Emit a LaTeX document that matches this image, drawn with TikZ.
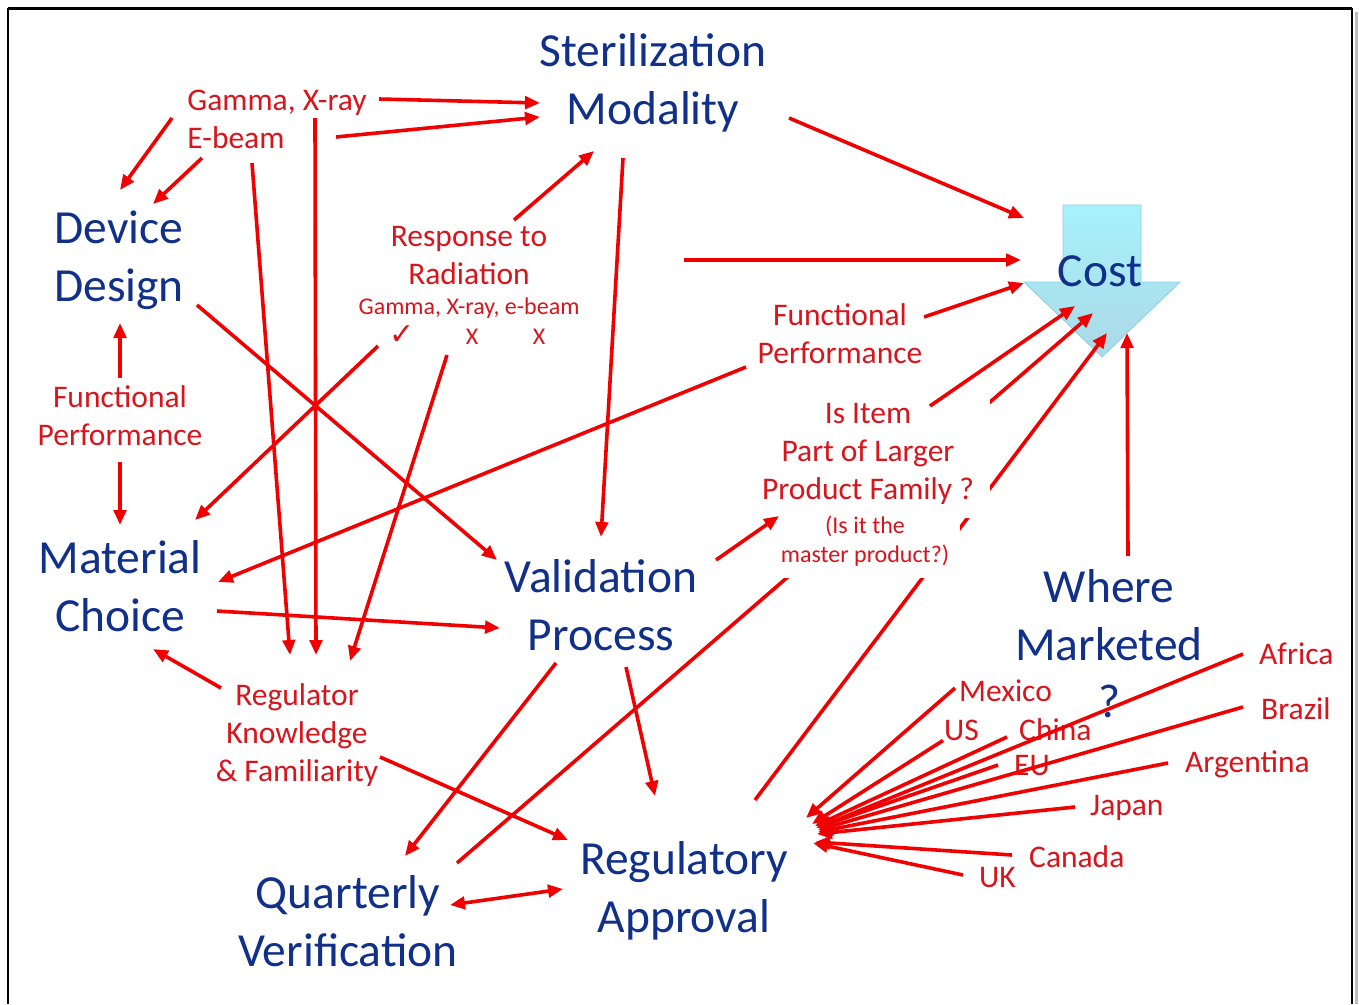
\documentclass[tikz,border=0pt]{standalone}
\usepackage{fontspec}
\setmainfont{Carlito}
\newfontfamily\symfont{DejaVu Sans}
\usetikzlibrary{arrows.meta,calc}
\definecolor{tblue}{HTML}{10308A}
\definecolor{tred}{HTML}{D8141C}
\definecolor{lred}{HTML}{F00000}
\definecolor{cyanA}{HTML}{A6F2FB}
\definecolor{cyanB}{HTML}{ABD9E6}
\definecolor{cyanE}{HTML}{8CCFE0}
\begin{document}
\begin{tikzpicture}[x=1pt,y=-1pt,
  big/.style={text=tblue,font=\fontsize{47.5}{57.5}\selectfont,align=center,inner sep=0},
  lab/.style={text=tred,font=\fontsize{31.5}{38}\selectfont,align=center,inner sep=0},
  small/.style={text=tred,font=\fontsize{24}{29}\selectfont,align=center,inner sep=0},
  ctry/.style={text=tred,font=\fontsize{31.5}{38}\selectfont,inner ysep=0,anchor=west},
  ar/.style={draw=lred,line width=3.6pt,-{Triangle[length=15pt,width=12.5pt]}},
  darr/.style={draw=lred,line width=3.6pt,{Triangle[length=15pt,width=12.5pt]}-{Triangle[length=15pt,width=12.5pt]}},
]
\useasboundingbox (0,0) rectangle (1359,1004);
\fill[white] (0,0) rectangle (1359,1004);
% frame
\draw[gray!50,line width=3pt] (1356,12) -- (1356,1004);
\draw[black,line width=2pt] (8,1004) -- (8,9) -- (1352,9) -- (1352,1004);
\draw[black,line width=3pt] (8,8) -- (1352,8);

% cost shape
\shade[top color=cyanA,bottom color=cyanB,draw=cyanE,line width=0.8pt]
  (1063,205) -- (1141,205) -- (1141,282) -- (1180,282) -- (1102,357) -- (1024,282) -- (1063,282) -- cycle;

% main nodes
\node[big] (ster) at (653,83) {Sterilization\\Modality};
\node[big] (dd) at (119,260) {Device\\Design};
\node[big] (mc) at (120,586) {Material\\Choice};
\node[big] (vp) at (601,605) {Validation\\Process};
\node[big] (qv) at (348,921) {Quarterly\\Verification};
\node[big] (ra) at (684,891) {Regulatory\\Approval};
\node[big] (wm) at (1109,644) {Where\\Marketed\\?};
\node[big] (cost) at (1100,271) {Cost};

% red labels
\node[lab,align=left] (gx) at (277,119) {Gamma, X-ray\\E-beam};
\node[lab] (rr) at (469,256) {Response to\\Radiation};
\node[small] (rg) at (469,308) {Gamma, X-ray, e-beam};
\node[text=tred,inner sep=0,font=\symfont\fontsize{30}{32}\selectfont] (ck) at (402,335) {✓};
\node[small] (xa) at (472,337) {X};
\node[small] (xb) at (539,337) {X};
\node[lab] (fpl) at (120,416) {Functional\\Performance};
\node[lab] (fpr) at (840,334) {Functional\\Performance};
\node[lab] (rk) at (297,735) {Regulator\\Knowledge\\\& Familiarity};

% countries
\node[ctry,inner xsep=4pt] (mx) at (955,691) {Mexico};
\node[ctry,inner xsep=1pt] (us) at (943,730) {US};
\node[ctry,inner xsep=12pt] (cn) at (1007,730) {China};
\node[ctry,inner xsep=16pt] (eu) at (998,765) {EU};
\node[ctry,inner xsep=16pt] (af) at (1243,654) {Africa};
\node[ctry,inner xsep=18pt] (br) at (1243,709) {Brazil};
\node[ctry,inner xsep=17pt] (ag) at (1168,764) {Argentina};
\node[ctry,inner xsep=15pt] (jp) at (1075,808) {Japan};
\node[ctry,inner xsep=17pt] (ca) at (1012,857) {Canada};
\node[ctry,inner xsep=16pt] (uk) at (963,877) {UK};

% lines partly hidden behind the "Is Item" text box
\draw[ar] ($(qv)+(109,-58)$) -- ($(cost)+(-7,42)$);
\draw[ar] ($(ra)+(71,-91)$) -- ($(cost)+(7,62)$);
\fill[white] (770,398) rectangle (990,518);
\fill[white] (775,512) rectangle (960,578);
\node[lab] (ii) at (868,454) {Is Item\\Part of Larger\\Product Family ?};
\node[small] (im) at (865,541) {(Is it the\\master product?)};

% arrows
\draw[ar] ($(gx)+(102,-20)$) -- ($(ster)+(-113,20)$);
\draw[ar] ($(gx)+(59,18)$) -- ($(ster)+(-113,34)$);
\draw[ar] ($(gx)+(-105,-1)$) -- ($(dd)+(1,-70)$);
\draw[ar] ($(gx)+(-75,39)$) -- ($(dd)+(34,-56)$);
\draw[ar] ($(gx)+(-25,44)$) -- ($(rk)+(-7,-80)$);
\draw[ar] ($(gx)+(38,-1)$) -- ($(rk)+(19,-80)$);
\draw[ar] ($(rr)+(45,-36)$) -- ($(ster)+(-59,68)$);
\draw[ar] ($(rr)+(215,4)$) -- ($(cost)+(-79,-11)$);
\draw[ar] ($(ster)+(-30,75)$) -- ($(vp)+(0,-68)$);
\draw[ar] ($(ster)+(136,35)$) -- ($(cost)+(-76,-53)$);
\draw[ar] ($(fpr)+(84,-17)$) -- ($(cost)+(-76,12)$);
\draw[ar] ($(fpr)+(-94,33)$) -- ($(mc)+(98,-4)$);
\draw[ar] ($(ii)+(62,-48)$) -- ($(cost)+(-25,35)$);
\draw[ar] ($(wm)+(19,-88)$) -- ($(cost)+(27,62)$);
\draw[ar] ($(vp)+(115,-45)$) -- ($(im)+(-86,-25)$);
\draw[ar] ($(dd)+(78,45)$) -- ($(vp)+(-104,-45)$);
\draw[ar] ($(ck)+(-24,11)$) -- ($(mc)+(75,-66)$);
\draw[ar] ($(xa)+(-25,18)$) -- ($(rk)+(53,-74)$);
\draw[ar] ($(fpl)+(0,-38)$) -- ($(dd)+(1,63)$);
\draw[ar] ($(fpl)+(0,46)$) -- ($(mc)+(0,-61)$);
\draw[ar] ($(mc)+(97,25)$) -- ($(vp)+(-101,23)$);
\draw[ar] ($(rk)+(-76,-47)$) -- ($(mc)+(33,63)$);
\draw[ar] ($(rk)+(83,22)$) -- ($(ra)+(-116,-51)$);
\draw[ar] ($(vp)+(-45,58)$) -- ($(qv)+(57,-65)$);
\draw[ar] ($(vp)+(25,62)$) -- ($(ra)+(-29,-95)$);
\draw[darr] ($(qv)+(102,-16)$) -- ($(ra)+(-121,-2)$);

% country arrows
\draw[ar] ($(mx.west)+(0,-3)$) -- ($(ra)+(122,-73)$);
\draw[ar] (us.south west) -- ($(ra)+(128,-67)$);
\draw[ar] ($(cn.west)+(0,7)$) -- ($(ra)+(131,-65)$);
\draw[ar] (eu.west) -- ($(ra)+(132,-63)$);
\draw[ar] (af.west) -- ($(ra)+(133,-63)$);
\draw[ar] ($(br.west)+(0,-2)$) -- ($(ra)+(134,-61)$);
\draw[ar] ($(ag.west)+(0,-1)$) -- ($(ra)+(134,-59)$);
\draw[ar] ($(jp.west)+(0,-1)$) -- ($(ra)+(133,-57)$);
\draw[ar] ($(ca.west)+(0,-2)$) -- ($(ra)+(131,-49)$);
\draw[ar] ($(uk.west)+(0,-2)$) -- ($(ra)+(129,-48)$);
\end{tikzpicture}
\end{document}
